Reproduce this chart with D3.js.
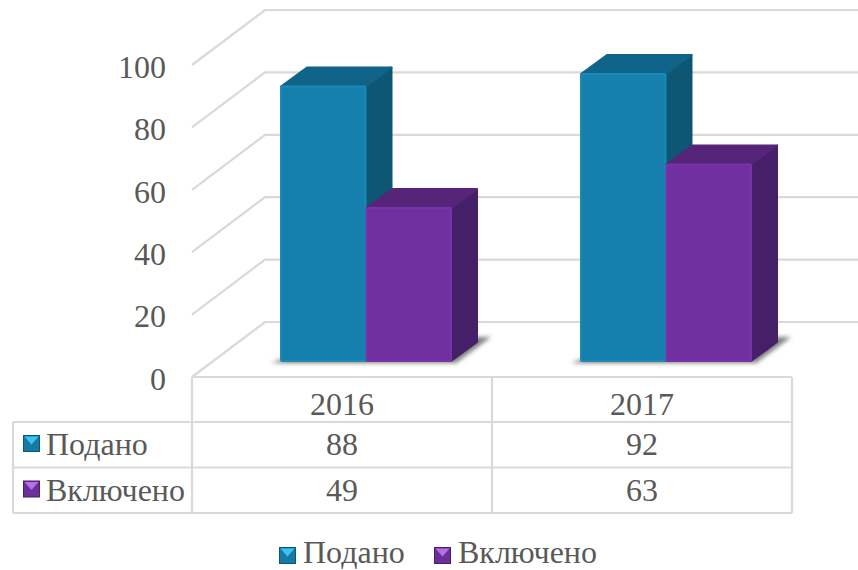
<!DOCTYPE html>
<html>
<head>
<meta charset="utf-8">
<script src="https://cdn.jsdelivr.net/npm/d3@7"></script>
<style>
  html, body { margin: 0; padding: 0; background: #fff; }
  text { font-family: "Liberation Serif", serif; font-size: 32px; fill: #595959; }
</style>
</head>
<body>
<div id="chart-area"></div>
<script>
const categories = ["2016", "2017"];
const seriesNames = ["Подано", "Включено"];
const submitted = [88, 92];
const included = [49, 63];
const seriesValues = [submitted, included];
const yTicks = [0, 20, 40, 60, 80, 100];

const colors = [
    { front: "#1580ae", bevel: "#1b88b6", top: "#10648a", side: "#0d5674", light: "#3fc3ee", key: "#137ba6", edge: "#0d5674" },
    { front: "#70309f", bevel: "#7734a8", top: "#562479", side: "#451f68", light: "#b66fe8", key: "#6c2f99", edge: "#451f68" }
];

const width = 858, height = 570;
const gridColor = "#d9d9d9";
const textColor = "#595959";

const svg = d3.select("#chart-area")
    .append("svg")
    .attr("width", width)
    .attr("height", height)
    .style("display", "block");

const defs = svg.append("defs");
defs.append("filter")
    .attr("id", "floor-blur")
    .attr("x", "-20%").attr("y", "-20%").attr("width", "140%").attr("height", "140%")
    .append("feGaussianBlur")
    .attr("stdDeviation", 2.2);

// plot box: front plane, and how far the back wall is shifted from it
const x0 = d3.scaleBand().domain(categories).range([192, 792]);
const xInner = d3.scaleBand().domain(d3.range(seriesNames.length)).range([0, 171]);
const y = d3.scaleLinear().domain([0, 100]).range([377, 65]);
const wall = { dx: 73, dy: -55 };
const barDepth = { dx: 26, dy: -19 };
const barShift = { dx: 24.5, dy: -16 };
const rows = [377, 422, 467.5, 513];

const line = (g, x1, y1, x2, y2, w) => g.append("line")
    .attr("x1", x1).attr("y1", y1).attr("x2", x2).attr("y2", y2)
    .attr("stroke", gridColor).attr("stroke-width", w || 2.2);

// gridlines on the wall and the side
const grid = svg.append("g");
yTicks.forEach(t => {
    grid.append("polyline")
        .attr("points", [
            [192, y(t)],
            [192 + wall.dx, y(t) + wall.dy],
            [width, y(t) + wall.dy]
        ].join(" "))
        .attr("fill", "none")
        .attr("stroke", gridColor)
        .attr("stroke-width", 2.2);
});

// y axis labels
const yAxis = d3.axisLeft(y)
    .tickValues(yTicks)
    .tickSize(0)
    .tickPadding(0);
svg.append("g")
    .attr("transform", "translate(166, 2)")
    .call(yAxis)
    .call(g => g.select(".domain").remove())
    .selectAll("text")
    .style("font-family", "'Liberation Serif', serif")
    .style("font-size", "32px")
    .style("fill", textColor);

// shadows on the floor, one per category
const bars = svg.append("g");
categories.forEach(c => {
    const left = x0(c) + (x0.bandwidth() - 171) / 2 + barShift.dx;
    const right = left + 171;
    const base = y(0) + barShift.dy;
    bars.append("polygon")
        .attr("points", [
            [left - 10, base + 2],
            [left + 18, base - 8],
            [right + 27, base - 24],
            [right + 39, base - 24],
            [right + 4, base + 2]
        ].join(" "))
        .attr("fill", "#7f7f7f")
        .attr("filter", "url(#floor-blur)");
});

// bars
seriesNames.forEach((name, s) => {
    const col = colors[s];
    categories.forEach((c, i) => {
        const left = x0(c) + (x0.bandwidth() - 171) / 2 + barShift.dx + xInner(s);
        const w = xInner.bandwidth() - 1;
        const right = left + w;
        const base = y(0) + barShift.dy;
        const top = y(seriesValues[s][i]) + barShift.dy;
        const g = bars.append("g")
            .attr("stroke-linejoin", "round")
            .attr("stroke-width", 2);

        g.append("polygon")
            .attr("points", [
                [right, top],
                [right + barDepth.dx, top + barDepth.dy],
                [right + barDepth.dx, base + barDepth.dy],
                [right, base]
            ].join(" "))
            .attr("fill", col.side).attr("stroke", col.side);
        g.append("polygon")
            .attr("points", [
                [left, top],
                [left + barDepth.dx, top + barDepth.dy],
                [right + barDepth.dx, top + barDepth.dy],
                [right, top]
            ].join(" "))
            .attr("fill", col.top).attr("stroke", col.top);
        g.append("rect")
            .attr("x", left).attr("y", top)
            .attr("width", w).attr("height", base - top)
            .attr("rx", 1.5)
            .attr("fill", col.front).attr("stroke", col.bevel);
    });
});

// data table
const table = svg.append("g");
rows.forEach((r, i) => line(table, i === 0 ? x0.range()[0] : 13, r, x0.range()[1], r));
line(table, 13, rows[1], 13, rows[3]);
line(table, 192, rows[0], 192, rows[3]);
line(table, 492, rows[0], 492, rows[3]);
line(table, 792, rows[0], 792, rows[3]);

const centerOf = c => x0(c) + x0.bandwidth() / 2;

table.selectAll(".cat")
    .data(categories)
    .enter()
    .append("text")
    .attr("class", "cat")
    .attr("x", d => centerOf(d))
    .attr("y", rows[0] + 38)
    .attr("text-anchor", "middle")
    .text(d => d);

function drawKey(g, px, py, col) {
    const size = 16;
    g.append("rect")
        .attr("x", px).attr("y", py)
        .attr("width", size).attr("height", size)
        .attr("fill", col.key).attr("stroke", col.edge).attr("stroke-width", 1);
    g.append("polygon")
        .attr("points", [[px + 1, py + 1], [px + size - 1, py + 1], [px + size / 2, py + size / 2 + 1]].join(" "))
        .attr("fill", col.light);
}

seriesNames.forEach((name, s) => {
    const baseline = rows[s + 1] + 33;
    drawKey(table, 23.5, rows[s + 1] + 13.5, colors[s]);
    table.append("text").attr("x", 46).attr("y", baseline).text(name);
    categories.forEach((c, i) => {
        table.append("text")
            .attr("x", centerOf(c))
            .attr("y", baseline)
            .attr("text-anchor", "middle")
            .text(seriesValues[s][i]);
    });
});

// bottom legend, text kept just clear of the page edge
const legendX = [279, 434];
const legend = svg.append("g");
seriesNames.forEach((name, s) => {
    drawKey(legend, legendX[s] + 0.5, 547.5, colors[s]);
    legend.append("text").attr("x", legendX[s] + 24).attr("y", 563).text(name);
});
</script>
</body>
</html>
